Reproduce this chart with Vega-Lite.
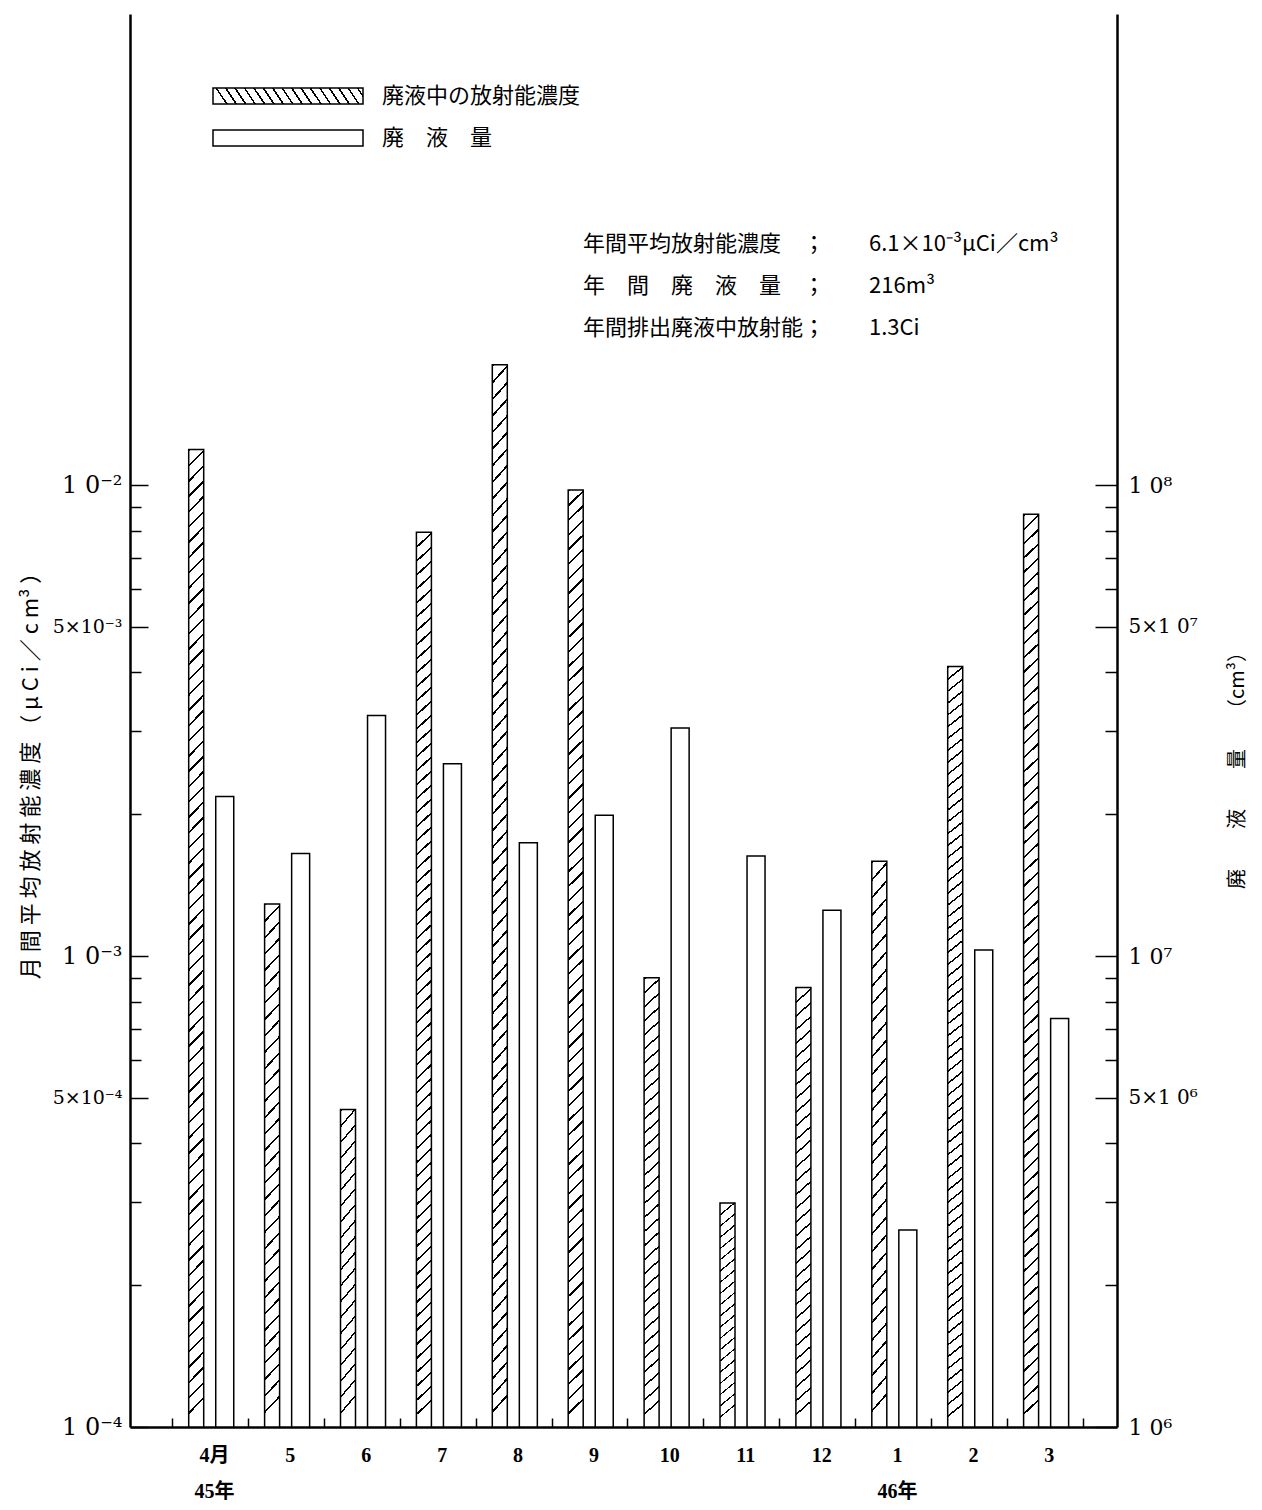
{
"$schema": "https://vega.github.io/schema/vega-lite/v6.json",
"width": 987,
"height": 1413,
"autosize": {"type": "none"},
"padding": {"left": 130, "top": 14, "right": 145, "bottom": 83},
"background": "white",
"config": {
  "view": {"stroke": null},
  "axis": {"grid": false, "domainColor": "#000", "tickColor": "#000", "labelColor": "#000", "titleColor": "#000"}
},
"title": {
  "text": ["年間平均放射能濃度　；　　6.1×10⁻³μCi／cm³", "年　間　廃　液　量　；　　216m³", "年間排出廃液中放射能；　　1.3Ci"],
  "anchor": "start", "frame": "group", "orient": "top", "offset": 0, "baseline": "top",
  "dx": 453, "dy": 326, "font": "Noto Sans CJK JP", "fontSize": 22, "fontWeight": "normal", "lineHeight": 42, "color": "#000"
},
"data": {"values": [
  {"month": "4月", "conc": 0.0119, "vol": 21800000},
  {"month": "5", "conc": 0.00129, "vol": 16500000},
  {"month": "6", "conc": 0.000472, "vol": 32400000},
  {"month": "7", "conc": 0.00794, "vol": 25600000},
  {"month": "8", "conc": 0.0180, "vol": 17400000},
  {"month": "9", "conc": 0.00976, "vol": 19900000},
  {"month": "10", "conc": 0.000899, "vol": 30500000},
  {"month": "11", "conc": 0.000299, "vol": 16300000},
  {"month": "12", "conc": 0.000857, "vol": 12500000},
  {"month": "1", "conc": 0.00159, "vol": 2620000},
  {"month": "2", "conc": 0.00412, "vol": 10300000},
  {"month": "3", "conc": 0.00867, "vol": 7370000}
]},
"encoding": {
  "x": {"field": "month", "type": "nominal", "sort": null, "title": null,
    "scale": {"paddingInner": 0, "paddingOuter": 0.502, "align": 0.558},
    "axis": {"bandPosition": 1, "tickExtra": true, "tickSize": -9, "tickWidth": 1.5, "domainWidth": 2.5,
      "labelAngle": 0, "labelOffset": 4, "labelFont": "Liberation Serif, Noto Sans CJK JP", "labelFontSize": 20, "labelFontWeight": "bold",
      "labelPadding": 27, "labelLineHeight": 36,
      "labelExpr": "datum.label === '4月' ? ['4月', '45年'] : datum.label === '1' ? ['1', '46年'] : datum.label"}}
},
"layer": [
  {
    "mark": {"type": "bar", "width": 15, "strokeWidth": 1.5, "stroke": "#000"},
    "encoding": {
      "xOffset": {"datum": "c", "type": "nominal", "scale": {"domain": ["c", "v"], "paddingInner": 0.42, "paddingOuter": 0.54}},
      "y": {"field": "conc", "type": "quantitative",
        "scale": {"type": "log", "domain": [0.0001, 0.1], "nice": false},
        "axis": {"orient": "left",
          "title": "月 間 平 均 放 射 能 濃 度 （ μ C i ／ c m³ ）",
          "titleX": -100, "titleY": 756, "titleAngle": 270, "titleAlign": "center", "titleBaseline": "middle",
          "titleFont": "Noto Sans CJK JP", "titleFontSize": 22, "titleFontWeight": "normal",
          "values": [0.0001, 0.0002, 0.0003, 0.0004, 0.0005, 0.0006, 0.0007, 0.0008, 0.0009, 0.001, 0.002, 0.003, 0.004, 0.005, 0.006, 0.007, 0.008, 0.009, 0.01],
          "labelExpr": "datum.value == 0.01 ? '1 0⁻²' : datum.value == 0.005 ? '5×10⁻³' : datum.value == 0.001 ? '1 0⁻³' : datum.value == 0.0005 ? '5×10⁻⁴' : datum.value == 0.0001 ? '1 0⁻⁴' : ''",
          "labelFont": "DejaVu Serif", "labelPadding": 26, "labelOverlap": false, "labelFlush": false,
          "labelFontSize": {"condition": {"test": "datum.value == 0.005 || datum.value == 0.0005", "value": 19}, "value": 24},
          "tickSize": {"condition": {"test": "datum.value == 0.0001 || datum.value == 0.0005 || datum.value == 0.001 || datum.value == 0.005 || datum.value == 0.01", "value": -18}, "value": -11},
          "tickWidth": 1.5, "domainWidth": 2.5
        }},
      "y2": {"datum": 0.0001},
      "fill": {
        "condition": [
          {"test": "datum.conc >= 0.003", "value": {"gradient": "linear", "x1": 0, "y1": 0, "x2": 0.0157, "y2": 1, "stops": [
{"offset":0,"color":"#000"},{"offset":0.0025,"color":"#000"},{"offset":0.0025,"color":"#fff"},{"offset":0.015625,"color":"#fff"},
{"offset":0.015625,"color":"#000"},{"offset":0.018125,"color":"#000"},{"offset":0.018125,"color":"#fff"},{"offset":0.03125,"color":"#fff"},
{"offset":0.03125,"color":"#000"},{"offset":0.03375,"color":"#000"},{"offset":0.03375,"color":"#fff"},{"offset":0.046875,"color":"#fff"},
{"offset":0.046875,"color":"#000"},{"offset":0.049375,"color":"#000"},{"offset":0.049375,"color":"#fff"},{"offset":0.0625,"color":"#fff"},
{"offset":0.0625,"color":"#000"},{"offset":0.065,"color":"#000"},{"offset":0.065,"color":"#fff"},{"offset":0.078125,"color":"#fff"},
{"offset":0.078125,"color":"#000"},{"offset":0.080625,"color":"#000"},{"offset":0.080625,"color":"#fff"},{"offset":0.09375,"color":"#fff"},
{"offset":0.09375,"color":"#000"},{"offset":0.09625,"color":"#000"},{"offset":0.09625,"color":"#fff"},{"offset":0.109375,"color":"#fff"},
{"offset":0.109375,"color":"#000"},{"offset":0.111875,"color":"#000"},{"offset":0.111875,"color":"#fff"},{"offset":0.125,"color":"#fff"},
{"offset":0.125,"color":"#000"},{"offset":0.1275,"color":"#000"},{"offset":0.1275,"color":"#fff"},{"offset":0.140625,"color":"#fff"},
{"offset":0.140625,"color":"#000"},{"offset":0.143125,"color":"#000"},{"offset":0.143125,"color":"#fff"},{"offset":0.15625,"color":"#fff"},
{"offset":0.15625,"color":"#000"},{"offset":0.15875,"color":"#000"},{"offset":0.15875,"color":"#fff"},{"offset":0.171875,"color":"#fff"},
{"offset":0.171875,"color":"#000"},{"offset":0.174375,"color":"#000"},{"offset":0.174375,"color":"#fff"},{"offset":0.1875,"color":"#fff"},
{"offset":0.1875,"color":"#000"},{"offset":0.19,"color":"#000"},{"offset":0.19,"color":"#fff"},{"offset":0.203125,"color":"#fff"},
{"offset":0.203125,"color":"#000"},{"offset":0.205625,"color":"#000"},{"offset":0.205625,"color":"#fff"},{"offset":0.21875,"color":"#fff"},
{"offset":0.21875,"color":"#000"},{"offset":0.22125,"color":"#000"},{"offset":0.22125,"color":"#fff"},{"offset":0.234375,"color":"#fff"},
{"offset":0.234375,"color":"#000"},{"offset":0.236875,"color":"#000"},{"offset":0.236875,"color":"#fff"},{"offset":0.25,"color":"#fff"},
{"offset":0.25,"color":"#000"},{"offset":0.2525,"color":"#000"},{"offset":0.2525,"color":"#fff"},{"offset":0.265625,"color":"#fff"},
{"offset":0.265625,"color":"#000"},{"offset":0.268125,"color":"#000"},{"offset":0.268125,"color":"#fff"},{"offset":0.28125,"color":"#fff"},
{"offset":0.28125,"color":"#000"},{"offset":0.28375,"color":"#000"},{"offset":0.28375,"color":"#fff"},{"offset":0.296875,"color":"#fff"},
{"offset":0.296875,"color":"#000"},{"offset":0.299375,"color":"#000"},{"offset":0.299375,"color":"#fff"},{"offset":0.3125,"color":"#fff"},
{"offset":0.3125,"color":"#000"},{"offset":0.315,"color":"#000"},{"offset":0.315,"color":"#fff"},{"offset":0.328125,"color":"#fff"},
{"offset":0.328125,"color":"#000"},{"offset":0.330625,"color":"#000"},{"offset":0.330625,"color":"#fff"},{"offset":0.34375,"color":"#fff"},
{"offset":0.34375,"color":"#000"},{"offset":0.34625,"color":"#000"},{"offset":0.34625,"color":"#fff"},{"offset":0.359375,"color":"#fff"},
{"offset":0.359375,"color":"#000"},{"offset":0.361875,"color":"#000"},{"offset":0.361875,"color":"#fff"},{"offset":0.375,"color":"#fff"},
{"offset":0.375,"color":"#000"},{"offset":0.3775,"color":"#000"},{"offset":0.3775,"color":"#fff"},{"offset":0.390625,"color":"#fff"},
{"offset":0.390625,"color":"#000"},{"offset":0.393125,"color":"#000"},{"offset":0.393125,"color":"#fff"},{"offset":0.40625,"color":"#fff"},
{"offset":0.40625,"color":"#000"},{"offset":0.40875,"color":"#000"},{"offset":0.40875,"color":"#fff"},{"offset":0.421875,"color":"#fff"},
{"offset":0.421875,"color":"#000"},{"offset":0.424375,"color":"#000"},{"offset":0.424375,"color":"#fff"},{"offset":0.4375,"color":"#fff"},
{"offset":0.4375,"color":"#000"},{"offset":0.44,"color":"#000"},{"offset":0.44,"color":"#fff"},{"offset":0.453125,"color":"#fff"},
{"offset":0.453125,"color":"#000"},{"offset":0.455625,"color":"#000"},{"offset":0.455625,"color":"#fff"},{"offset":0.46875,"color":"#fff"},
{"offset":0.46875,"color":"#000"},{"offset":0.47125,"color":"#000"},{"offset":0.47125,"color":"#fff"},{"offset":0.484375,"color":"#fff"},
{"offset":0.484375,"color":"#000"},{"offset":0.486875,"color":"#000"},{"offset":0.486875,"color":"#fff"},{"offset":0.5,"color":"#fff"},
{"offset":0.5,"color":"#000"},{"offset":0.5025,"color":"#000"},{"offset":0.5025,"color":"#fff"},{"offset":0.515625,"color":"#fff"},
{"offset":0.515625,"color":"#000"},{"offset":0.518125,"color":"#000"},{"offset":0.518125,"color":"#fff"},{"offset":0.53125,"color":"#fff"},
{"offset":0.53125,"color":"#000"},{"offset":0.53375,"color":"#000"},{"offset":0.53375,"color":"#fff"},{"offset":0.546875,"color":"#fff"},
{"offset":0.546875,"color":"#000"},{"offset":0.549375,"color":"#000"},{"offset":0.549375,"color":"#fff"},{"offset":0.5625,"color":"#fff"},
{"offset":0.5625,"color":"#000"},{"offset":0.565,"color":"#000"},{"offset":0.565,"color":"#fff"},{"offset":0.578125,"color":"#fff"},
{"offset":0.578125,"color":"#000"},{"offset":0.580625,"color":"#000"},{"offset":0.580625,"color":"#fff"},{"offset":0.59375,"color":"#fff"},
{"offset":0.59375,"color":"#000"},{"offset":0.59625,"color":"#000"},{"offset":0.59625,"color":"#fff"},{"offset":0.609375,"color":"#fff"},
{"offset":0.609375,"color":"#000"},{"offset":0.611875,"color":"#000"},{"offset":0.611875,"color":"#fff"},{"offset":0.625,"color":"#fff"},
{"offset":0.625,"color":"#000"},{"offset":0.6275,"color":"#000"},{"offset":0.6275,"color":"#fff"},{"offset":0.640625,"color":"#fff"},
{"offset":0.640625,"color":"#000"},{"offset":0.643125,"color":"#000"},{"offset":0.643125,"color":"#fff"},{"offset":0.65625,"color":"#fff"},
{"offset":0.65625,"color":"#000"},{"offset":0.65875,"color":"#000"},{"offset":0.65875,"color":"#fff"},{"offset":0.671875,"color":"#fff"},
{"offset":0.671875,"color":"#000"},{"offset":0.674375,"color":"#000"},{"offset":0.674375,"color":"#fff"},{"offset":0.6875,"color":"#fff"},
{"offset":0.6875,"color":"#000"},{"offset":0.69,"color":"#000"},{"offset":0.69,"color":"#fff"},{"offset":0.703125,"color":"#fff"},
{"offset":0.703125,"color":"#000"},{"offset":0.705625,"color":"#000"},{"offset":0.705625,"color":"#fff"},{"offset":0.71875,"color":"#fff"},
{"offset":0.71875,"color":"#000"},{"offset":0.72125,"color":"#000"},{"offset":0.72125,"color":"#fff"},{"offset":0.734375,"color":"#fff"},
{"offset":0.734375,"color":"#000"},{"offset":0.736875,"color":"#000"},{"offset":0.736875,"color":"#fff"},{"offset":0.75,"color":"#fff"},
{"offset":0.75,"color":"#000"},{"offset":0.7525,"color":"#000"},{"offset":0.7525,"color":"#fff"},{"offset":0.765625,"color":"#fff"},
{"offset":0.765625,"color":"#000"},{"offset":0.768125,"color":"#000"},{"offset":0.768125,"color":"#fff"},{"offset":0.78125,"color":"#fff"},
{"offset":0.78125,"color":"#000"},{"offset":0.78375,"color":"#000"},{"offset":0.78375,"color":"#fff"},{"offset":0.796875,"color":"#fff"},
{"offset":0.796875,"color":"#000"},{"offset":0.799375,"color":"#000"},{"offset":0.799375,"color":"#fff"},{"offset":0.8125,"color":"#fff"},
{"offset":0.8125,"color":"#000"},{"offset":0.815,"color":"#000"},{"offset":0.815,"color":"#fff"},{"offset":0.828125,"color":"#fff"},
{"offset":0.828125,"color":"#000"},{"offset":0.830625,"color":"#000"},{"offset":0.830625,"color":"#fff"},{"offset":0.84375,"color":"#fff"},
{"offset":0.84375,"color":"#000"},{"offset":0.84625,"color":"#000"},{"offset":0.84625,"color":"#fff"},{"offset":0.859375,"color":"#fff"},
{"offset":0.859375,"color":"#000"},{"offset":0.861875,"color":"#000"},{"offset":0.861875,"color":"#fff"},{"offset":0.875,"color":"#fff"},
{"offset":0.875,"color":"#000"},{"offset":0.8775,"color":"#000"},{"offset":0.8775,"color":"#fff"},{"offset":0.890625,"color":"#fff"},
{"offset":0.890625,"color":"#000"},{"offset":0.893125,"color":"#000"},{"offset":0.893125,"color":"#fff"},{"offset":0.90625,"color":"#fff"},
{"offset":0.90625,"color":"#000"},{"offset":0.90875,"color":"#000"},{"offset":0.90875,"color":"#fff"},{"offset":0.921875,"color":"#fff"},
{"offset":0.921875,"color":"#000"},{"offset":0.924375,"color":"#000"},{"offset":0.924375,"color":"#fff"},{"offset":0.9375,"color":"#fff"},
{"offset":0.9375,"color":"#000"},{"offset":0.94,"color":"#000"},{"offset":0.94,"color":"#fff"},{"offset":0.953125,"color":"#fff"},
{"offset":0.953125,"color":"#000"},{"offset":0.955625,"color":"#000"},{"offset":0.955625,"color":"#fff"},{"offset":0.96875,"color":"#fff"},
{"offset":0.96875,"color":"#000"},{"offset":0.97125,"color":"#000"},{"offset":0.97125,"color":"#fff"},{"offset":0.984375,"color":"#fff"},
{"offset":0.984375,"color":"#000"},{"offset":0.986875,"color":"#000"},{"offset":0.986875,"color":"#fff"},{"offset":1,"color":"#fff"}
          ]}},
          {"test": "datum.conc >= 0.0007", "value": {"gradient": "linear", "x1": 0, "y1": 0, "x2": 0.0303, "y2": 1, "stops": [
{"offset":0,"color":"#000"},{"offset":0.0045,"color":"#000"},{"offset":0.0045,"color":"#fff"},{"offset":0.03125,"color":"#fff"},
{"offset":0.03125,"color":"#000"},{"offset":0.03575,"color":"#000"},{"offset":0.03575,"color":"#fff"},{"offset":0.0625,"color":"#fff"},
{"offset":0.0625,"color":"#000"},{"offset":0.067,"color":"#000"},{"offset":0.067,"color":"#fff"},{"offset":0.09375,"color":"#fff"},
{"offset":0.09375,"color":"#000"},{"offset":0.09825,"color":"#000"},{"offset":0.09825,"color":"#fff"},{"offset":0.125,"color":"#fff"},
{"offset":0.125,"color":"#000"},{"offset":0.1295,"color":"#000"},{"offset":0.1295,"color":"#fff"},{"offset":0.15625,"color":"#fff"},
{"offset":0.15625,"color":"#000"},{"offset":0.16075,"color":"#000"},{"offset":0.16075,"color":"#fff"},{"offset":0.1875,"color":"#fff"},
{"offset":0.1875,"color":"#000"},{"offset":0.192,"color":"#000"},{"offset":0.192,"color":"#fff"},{"offset":0.21875,"color":"#fff"},
{"offset":0.21875,"color":"#000"},{"offset":0.22325,"color":"#000"},{"offset":0.22325,"color":"#fff"},{"offset":0.25,"color":"#fff"},
{"offset":0.25,"color":"#000"},{"offset":0.2545,"color":"#000"},{"offset":0.2545,"color":"#fff"},{"offset":0.28125,"color":"#fff"},
{"offset":0.28125,"color":"#000"},{"offset":0.28575,"color":"#000"},{"offset":0.28575,"color":"#fff"},{"offset":0.3125,"color":"#fff"},
{"offset":0.3125,"color":"#000"},{"offset":0.317,"color":"#000"},{"offset":0.317,"color":"#fff"},{"offset":0.34375,"color":"#fff"},
{"offset":0.34375,"color":"#000"},{"offset":0.34825,"color":"#000"},{"offset":0.34825,"color":"#fff"},{"offset":0.375,"color":"#fff"},
{"offset":0.375,"color":"#000"},{"offset":0.3795,"color":"#000"},{"offset":0.3795,"color":"#fff"},{"offset":0.40625,"color":"#fff"},
{"offset":0.40625,"color":"#000"},{"offset":0.41075,"color":"#000"},{"offset":0.41075,"color":"#fff"},{"offset":0.4375,"color":"#fff"},
{"offset":0.4375,"color":"#000"},{"offset":0.442,"color":"#000"},{"offset":0.442,"color":"#fff"},{"offset":0.46875,"color":"#fff"},
{"offset":0.46875,"color":"#000"},{"offset":0.47325,"color":"#000"},{"offset":0.47325,"color":"#fff"},{"offset":0.5,"color":"#fff"},
{"offset":0.5,"color":"#000"},{"offset":0.5045,"color":"#000"},{"offset":0.5045,"color":"#fff"},{"offset":0.53125,"color":"#fff"},
{"offset":0.53125,"color":"#000"},{"offset":0.53575,"color":"#000"},{"offset":0.53575,"color":"#fff"},{"offset":0.5625,"color":"#fff"},
{"offset":0.5625,"color":"#000"},{"offset":0.567,"color":"#000"},{"offset":0.567,"color":"#fff"},{"offset":0.59375,"color":"#fff"},
{"offset":0.59375,"color":"#000"},{"offset":0.59825,"color":"#000"},{"offset":0.59825,"color":"#fff"},{"offset":0.625,"color":"#fff"},
{"offset":0.625,"color":"#000"},{"offset":0.6295,"color":"#000"},{"offset":0.6295,"color":"#fff"},{"offset":0.65625,"color":"#fff"},
{"offset":0.65625,"color":"#000"},{"offset":0.66075,"color":"#000"},{"offset":0.66075,"color":"#fff"},{"offset":0.6875,"color":"#fff"},
{"offset":0.6875,"color":"#000"},{"offset":0.692,"color":"#000"},{"offset":0.692,"color":"#fff"},{"offset":0.71875,"color":"#fff"},
{"offset":0.71875,"color":"#000"},{"offset":0.72325,"color":"#000"},{"offset":0.72325,"color":"#fff"},{"offset":0.75,"color":"#fff"},
{"offset":0.75,"color":"#000"},{"offset":0.7545,"color":"#000"},{"offset":0.7545,"color":"#fff"},{"offset":0.78125,"color":"#fff"},
{"offset":0.78125,"color":"#000"},{"offset":0.78575,"color":"#000"},{"offset":0.78575,"color":"#fff"},{"offset":0.8125,"color":"#fff"},
{"offset":0.8125,"color":"#000"},{"offset":0.817,"color":"#000"},{"offset":0.817,"color":"#fff"},{"offset":0.84375,"color":"#fff"},
{"offset":0.84375,"color":"#000"},{"offset":0.84825,"color":"#000"},{"offset":0.84825,"color":"#fff"},{"offset":0.875,"color":"#fff"},
{"offset":0.875,"color":"#000"},{"offset":0.8795,"color":"#000"},{"offset":0.8795,"color":"#fff"},{"offset":0.90625,"color":"#fff"},
{"offset":0.90625,"color":"#000"},{"offset":0.91075,"color":"#000"},{"offset":0.91075,"color":"#fff"},{"offset":0.9375,"color":"#fff"},
{"offset":0.9375,"color":"#000"},{"offset":0.942,"color":"#000"},{"offset":0.942,"color":"#fff"},{"offset":0.96875,"color":"#fff"},
{"offset":0.96875,"color":"#000"},{"offset":0.97325,"color":"#000"},{"offset":0.97325,"color":"#fff"},{"offset":1,"color":"#fff"}
          ]}},
          {"test": "datum.conc < 0.0007", "value": {"gradient": "linear", "x1": 0, "y1": 0, "x2": 0.0556, "y2": 1, "stops": [
{"offset":0,"color":"#000"},{"offset":0.007,"color":"#000"},{"offset":0.007,"color":"#fff"},{"offset":0.05,"color":"#fff"},
{"offset":0.05,"color":"#000"},{"offset":0.057,"color":"#000"},{"offset":0.057,"color":"#fff"},{"offset":0.1,"color":"#fff"},
{"offset":0.1,"color":"#000"},{"offset":0.107,"color":"#000"},{"offset":0.107,"color":"#fff"},{"offset":0.15,"color":"#fff"},
{"offset":0.15,"color":"#000"},{"offset":0.157,"color":"#000"},{"offset":0.157,"color":"#fff"},{"offset":0.2,"color":"#fff"},
{"offset":0.2,"color":"#000"},{"offset":0.207,"color":"#000"},{"offset":0.207,"color":"#fff"},{"offset":0.25,"color":"#fff"},
{"offset":0.25,"color":"#000"},{"offset":0.257,"color":"#000"},{"offset":0.257,"color":"#fff"},{"offset":0.3,"color":"#fff"},
{"offset":0.3,"color":"#000"},{"offset":0.307,"color":"#000"},{"offset":0.307,"color":"#fff"},{"offset":0.35,"color":"#fff"},
{"offset":0.35,"color":"#000"},{"offset":0.357,"color":"#000"},{"offset":0.357,"color":"#fff"},{"offset":0.4,"color":"#fff"},
{"offset":0.4,"color":"#000"},{"offset":0.407,"color":"#000"},{"offset":0.407,"color":"#fff"},{"offset":0.45,"color":"#fff"},
{"offset":0.45,"color":"#000"},{"offset":0.457,"color":"#000"},{"offset":0.457,"color":"#fff"},{"offset":0.5,"color":"#fff"},
{"offset":0.5,"color":"#000"},{"offset":0.507,"color":"#000"},{"offset":0.507,"color":"#fff"},{"offset":0.55,"color":"#fff"},
{"offset":0.55,"color":"#000"},{"offset":0.557,"color":"#000"},{"offset":0.557,"color":"#fff"},{"offset":0.6,"color":"#fff"},
{"offset":0.6,"color":"#000"},{"offset":0.607,"color":"#000"},{"offset":0.607,"color":"#fff"},{"offset":0.65,"color":"#fff"},
{"offset":0.65,"color":"#000"},{"offset":0.657,"color":"#000"},{"offset":0.657,"color":"#fff"},{"offset":0.7,"color":"#fff"},
{"offset":0.7,"color":"#000"},{"offset":0.707,"color":"#000"},{"offset":0.707,"color":"#fff"},{"offset":0.75,"color":"#fff"},
{"offset":0.75,"color":"#000"},{"offset":0.757,"color":"#000"},{"offset":0.757,"color":"#fff"},{"offset":0.8,"color":"#fff"},
{"offset":0.8,"color":"#000"},{"offset":0.807,"color":"#000"},{"offset":0.807,"color":"#fff"},{"offset":0.85,"color":"#fff"},
{"offset":0.85,"color":"#000"},{"offset":0.857,"color":"#000"},{"offset":0.857,"color":"#fff"},{"offset":0.9,"color":"#fff"},
{"offset":0.9,"color":"#000"},{"offset":0.907,"color":"#000"},{"offset":0.907,"color":"#fff"},{"offset":0.95,"color":"#fff"},
{"offset":0.95,"color":"#000"},{"offset":0.957,"color":"#000"},{"offset":0.957,"color":"#fff"},{"offset":1,"color":"#fff"}
          ]}}
        ],
        "datum": "廃液中の放射能濃度", "type": "nominal",
        "scale": {"domain": ["廃液中の放射能濃度", "廃　液　量"],
          "range": [{"expr": "{gradient: 'linear', x1: 0, y1: 0.0714, x2: 1, y2: 0, stops: [{offset: 0, color: '#fff'}, {offset: 0.02, color: '#fff'}, {offset: 0.02, color: '#000'}, {offset: 0.0325, color: '#000'}, {offset: 0.0325, color: '#fff'}, {offset: 0.0825, color: '#fff'}, {offset: 0.0825, color: '#000'}, {offset: 0.095, color: '#000'}, {offset: 0.095, color: '#fff'}, {offset: 0.145, color: '#fff'}, {offset: 0.145, color: '#000'}, {offset: 0.1575, color: '#000'}, {offset: 0.1575, color: '#fff'}, {offset: 0.2075, color: '#fff'}, {offset: 0.2075, color: '#000'}, {offset: 0.22, color: '#000'}, {offset: 0.22, color: '#fff'}, {offset: 0.27, color: '#fff'}, {offset: 0.27, color: '#000'}, {offset: 0.2825, color: '#000'}, {offset: 0.2825, color: '#fff'}, {offset: 0.3325, color: '#fff'}, {offset: 0.3325, color: '#000'}, {offset: 0.345, color: '#000'}, {offset: 0.345, color: '#fff'}, {offset: 0.395, color: '#fff'}, {offset: 0.395, color: '#000'}, {offset: 0.4075, color: '#000'}, {offset: 0.4075, color: '#fff'}, {offset: 0.4575, color: '#fff'}, {offset: 0.4575, color: '#000'}, {offset: 0.47, color: '#000'}, {offset: 0.47, color: '#fff'}, {offset: 0.52, color: '#fff'}, {offset: 0.52, color: '#000'}, {offset: 0.5325, color: '#000'}, {offset: 0.5325, color: '#fff'}, {offset: 0.5825, color: '#fff'}, {offset: 0.5825, color: '#000'}, {offset: 0.595, color: '#000'}, {offset: 0.595, color: '#fff'}, {offset: 0.645, color: '#fff'}, {offset: 0.645, color: '#000'}, {offset: 0.6575, color: '#000'}, {offset: 0.6575, color: '#fff'}, {offset: 0.7075, color: '#fff'}, {offset: 0.7075, color: '#000'}, {offset: 0.72, color: '#000'}, {offset: 0.72, color: '#fff'}, {offset: 0.77, color: '#fff'}, {offset: 0.77, color: '#000'}, {offset: 0.7825, color: '#000'}, {offset: 0.7825, color: '#fff'}, {offset: 0.8325, color: '#fff'}, {offset: 0.8325, color: '#000'}, {offset: 0.845, color: '#000'}, {offset: 0.845, color: '#fff'}, {offset: 0.895, color: '#fff'}, {offset: 0.895, color: '#000'}, {offset: 0.9075, color: '#000'}, {offset: 0.9075, color: '#fff'}, {offset: 0.9575, color: '#fff'}, {offset: 0.9575, color: '#000'}, {offset: 0.97, color: '#000'}, {offset: 0.97, color: '#fff'}, {offset: 1, color: '#fff'}]}"}, "#fff"]},
        "legend": {"orient": "none", "legendX": 80, "legendY": 71, "title": null,
          "symbolType": "M-1,-1H17.75V1H-1Z", "symbolSize": 256, "symbolStrokeWidth": 1.5, "symbolStrokeColor": "#000",
          "labelFont": "Noto Sans CJK JP", "labelFontSize": 22, "labelColor": "#000", "labelLimit": 400, "labelOffset": 150,
          "rowPadding": 20}
      }
    }
  },
  {
    "mark": {"type": "bar", "width": 18, "strokeWidth": 1.5, "stroke": "#000"},
    "encoding": {
      "xOffset": {"datum": "v", "type": "nominal", "scale": {"domain": ["c", "v"], "paddingInner": 0.42, "paddingOuter": 0.54}},
      "y": {"field": "vol", "type": "quantitative",
        "scale": {"type": "log", "domain": [1000000, 1000000000], "nice": false},
        "axis": {"orient": "right",
          "title": "廃　　液　　量　　（cm³）",
          "titleX": 120, "titleY": 751, "titleAngle": 270, "titleAlign": "center", "titleBaseline": "middle",
          "titleFont": "Noto Sans CJK JP", "titleFontSize": 20, "titleFontWeight": "normal",
          "values": [1000000, 2000000, 3000000, 4000000, 5000000, 6000000, 7000000, 8000000, 9000000, 10000000, 20000000, 30000000, 40000000, 50000000, 60000000, 70000000, 80000000, 90000000, 100000000],
          "labelExpr": "datum.value == 100000000 ? '1 0⁸' : datum.value == 50000000 ? '5×1 0⁷' : datum.value == 10000000 ? '1 0⁷' : datum.value == 5000000 ? '5×1 0⁶' : datum.value == 1000000 ? '1 0⁶' : ''",
          "labelFont": "DejaVu Serif", "labelPadding": 33, "labelOverlap": false, "labelFlush": false,
          "labelFontSize": {"condition": {"test": "datum.value == 50000000 || datum.value == 5000000", "value": 20}, "value": 22},
          "tickSize": {"condition": {"test": "datum.value == 1000000 || datum.value == 5000000 || datum.value == 10000000 || datum.value == 50000000 || datum.value == 100000000", "value": -22}, "value": -12},
          "tickWidth": 1.5, "domainWidth": 2.5
        }},
      "y2": {"datum": 1000000},
      "fill": {"datum": "廃　液　量", "type": "nominal"}
    }
  }
],
"resolve": {"scale": {"y": "independent"}}
}
